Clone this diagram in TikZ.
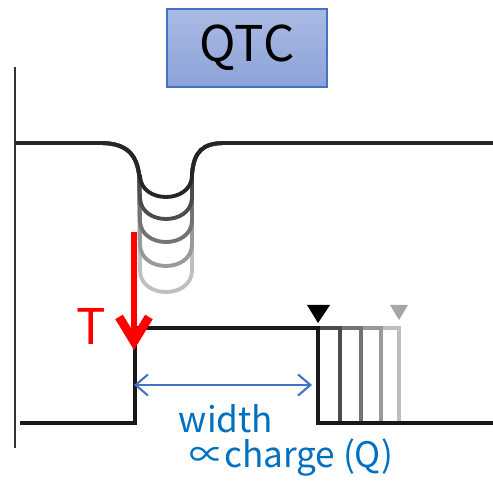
\documentclass[tikz,border=0pt]{standalone}
\usepackage{fontspec}
\newfontfamily\jpfont{Noto Sans CJK JP}
\usetikzlibrary{arrows.meta}
\definecolor{qtcblue}{HTML}{4472C4}
\definecolor{labelblue}{HTML}{0070C0}
\definecolor{boxtop}{HTML}{AABAE2}
\definecolor{boxbot}{HTML}{8CA3D8}
\begin{document}
\begin{tikzpicture}[x=0.02cm,y=-0.02cm,every node/.style={font=\jpfont}]
  \useasboundingbox (0,0) rectangle (493,482);
  \node[draw=qtcblue,line width=0.7pt,top color=boxtop,bottom color=boxbot,minimum width=3.2cm,minimum height=1.56cm,font=\jpfont\fontsize{28}{30}\selectfont] (title) at (247,48) {QTC};
  \draw[line width=1.6pt,black!80] (15,67) -- (15,448);
  \foreach \y/\c in {293/25,267/40,243/55,220/70,198/85}
    \draw[line width=2.2pt,black!\c] (15,143) -- (100,143) .. controls (124,143) and (136,152) .. (139,174)
      -- (140,\y-22) .. controls (141,\y+6) and (191,\y+6) .. (192,\y-22)
      -- (192,174) .. controls (194,152) and (202,143) .. (225,143) -- (493,143);
  \foreach \x/\c in {399/25,381/40,361/55,340/70,318/90}
    \draw[line width=1.8pt,black!\c] (135,328) -- (\x,328) -- (\x,423) -- (493,423);
  \draw[line width=1.8pt,black!90] (20,423) -- (135,423) -- (135,328);
  \fill[black] (307,305) -- (330,305) -- (318,323) -- cycle;
  \fill[black!35] (390,305) -- (408,305) -- (399,320) -- cycle;
  \coordinate (ttop) at (134,232); \coordinate (ttip) at (134,350);
  \draw[line width=3.3pt,red,-{Straight Barb[length=14pt,width=17pt,line width=5pt]}] (ttop) -- (ttip);
  \node[text=red,font=\jpfont\fontsize{28}{30}\selectfont] (tlabel) at (91,326) {T};
  \coordinate (wl) at (134,385); \coordinate (wr) at (312,385);
  \draw[line width=1.2pt,qtcblue,{Straight Barb[length=7pt,width=12pt]}-{Straight Barb[length=7pt,width=12pt]}] (wl) -- (wr);
  \node[text=labelblue,anchor=base,font=\jpfont\fontsize{20}{22}\selectfont] (width) at (226,432) {width};
  \node[text=labelblue,anchor=base,font=\jpfont\fontsize{20}{22}\selectfont] (charge) at (291,467) {∝charge (Q)};
\end{tikzpicture}
\end{document}
